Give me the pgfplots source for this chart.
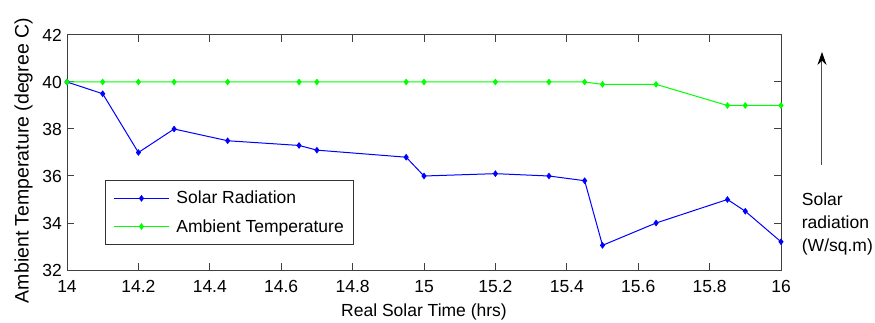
\documentclass[border=0pt]{standalone}
\usepackage{fontspec}
\setmainfont{Liberation Sans}
\usepackage{pgfplots}
\pgfplotsset{compat=1.18}
\usetikzlibrary{arrows.meta}
\definecolor{mblue}{RGB}{0,0,255}
\definecolor{mgreen}{RGB}{0,255,0}
\begin{document}
\begin{tikzpicture}
\path[use as bounding box] (-67bp,-53bp) rectangle (808bp,270bp);
\begin{axis}[
  at={(0,0)}, anchor=south west,
  scale only axis, width=714bp, height=235bp,
  xmin=14, xmax=16, ymin=32, ymax=42,
  xtick={14,14.2,14.4,14.6,14.8,15,15.2,15.4,15.6,15.8,16},
  ytick={32,34,36,38,40,42},
  tick align=inside,
  major tick length=7bp,
  axis line style={black!75, line width=1bp},
  every tick/.style={black!75, line width=1bp},
  font=\fontsize{17.5bp}{21bp}\selectfont,
  /pgf/number format/assume math mode=true,
  xticklabel style={anchor=north, inner sep=0pt, yshift=-10bp},
  yticklabel style={anchor=east, inner sep=0pt, xshift=-5bp},
  xlabel={Real Solar Time (hrs)},
  xlabel style={at={(axis description cs:0.5,0)}, anchor=center, yshift=-41.5bp},
  ylabel={Ambient Temperature (degree C)},
  ylabel style={at={(axis description cs:-0.0609,0.466)}, anchor=center, font=\fontsize{19.5bp}{22bp}\selectfont},
  clip=false,
  legend style={at={(0.0532,0.106)}, anchor=south west, draw=black!80, line width=1bp, fill=white,
    font=\fontsize{17.5bp}{21bp}\selectfont, row sep=10bp, column sep=5bp, inner xsep=8bp, inner ysep=9bp},
  legend cell align=left,
  legend image code/.code={\draw[mark repeat=2,mark phase=2,#1] plot coordinates {(0bp,0bp) (27.5bp,0bp) (55bp,0bp)};},
]
\addplot[mblue, line width=1bp, mark=diamond*, mark size=2.6bp] coordinates {
(14.00,40.0) (14.10,39.5) (14.20,37.0) (14.30,38.0) (14.45,37.5) (14.65,37.3)
(14.70,37.1) (14.95,36.8) (15.00,36.0) (15.20,36.1) (15.35,36.0) (15.45,35.8)
(15.50,33.05) (15.65,34.0) (15.85,35.0) (15.90,34.5) (16.00,33.2)
};
\addlegendentry{Solar Radiation}
\addplot[mgreen, line width=1bp, mark=diamond*, mark size=2.6bp] coordinates {
(14.00,40.0) (14.10,40.0) (14.20,40.0) (14.30,40.0) (14.45,40.0) (14.65,40.0)
(14.70,40.0) (14.95,40.0) (15.00,40.0) (15.20,40.0) (15.35,40.0) (15.45,40.0)
(15.50,39.9) (15.65,39.9) (15.85,39.0) (15.90,39.0) (16.00,39.0)
};
\addlegendentry{Ambient Temperature}
\draw[black!70, line width=1bp, -{Stealth[length=13bp, width=9bp, black]}] (rel axis cs:1.0574,0.447) -- (rel axis cs:1.0574,0.928);
\node[anchor=north west, inner sep=0pt, align=left, font=\fontsize{17.5bp}{23bp}\selectfont] at (rel axis cs:1.029,0.328) {Solar\\radiation\\(W/sq.m)};
\end{axis}
\end{tikzpicture}
\end{document}
